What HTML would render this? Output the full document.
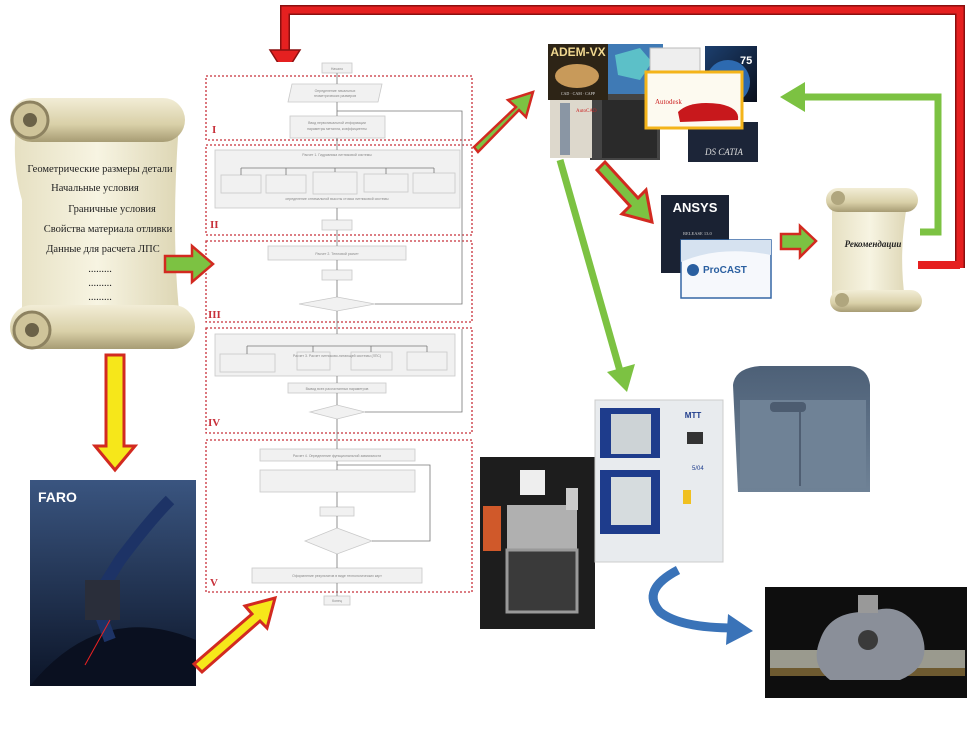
<!DOCTYPE html>
<html><head><meta charset="utf-8"><style>
html,body{margin:0;padding:0;background:#fff;}
svg{display:block;font-family:"Liberation Serif","DejaVu Serif",serif;}
</style></head><body>
<svg width="975" height="730" viewBox="0 0 975 730" xmlns="http://www.w3.org/2000/svg">
<defs>
<linearGradient id="parch" x1="0" x2="1"><stop offset="0" stop-color="#e6e0c2"/><stop offset="0.5" stop-color="#f7f4e2"/><stop offset="1" stop-color="#ddd6b4"/></linearGradient>
<linearGradient id="roll" x1="0" y1="0" x2="0" y2="1"><stop offset="0" stop-color="#f2edd6"/><stop offset="0.6" stop-color="#d9d0a8"/><stop offset="1" stop-color="#a79c74"/></linearGradient>
<linearGradient id="faro" x1="0" y1="0" x2="0" y2="1"><stop offset="0" stop-color="#3a5580"/><stop offset="1" stop-color="#0c1528"/></linearGradient>
<linearGradient id="earth" x1="0" y1="0" x2="1" y2="1"><stop offset="0" stop-color="#1c3f6e"/><stop offset="1" stop-color="#0a0f1c"/></linearGradient>
<linearGradient id="prn" x1="0" y1="0" x2="0" y2="1"><stop offset="0" stop-color="#4d6077"/><stop offset="1" stop-color="#6f8296"/></linearGradient>
</defs>

<!-- big red feedback arrow -->
<path d="M960 268 L960 10 L285 10 L285 55" fill="none" stroke="#8a1010" stroke-width="10"/>
<path d="M960 268 L960 10 L285 10 L285 55" fill="none" stroke="#e52020" stroke-width="7"/>
<polygon points="270,50 300,50 285,74" fill="#e52020" stroke="#8a1010" stroke-width="1.5"/>
<path d="M918 265 L960 265" stroke="#e52020" stroke-width="8"/>
<!-- green feedback -->
<path d="M920 232 L938 232 L938 97 L800 97" fill="none" stroke="#7cc242" stroke-width="7"/>
<polygon points="805,82 805,112 780,97" fill="#7cc242"/>

<!-- left scroll -->
<path d="M18 110 Q10 160 22 200 L22 320 L180 320 Q170 230 180 110 Z" fill="url(#parch)"/>
<rect x="10" y="98" width="175" height="44" rx="22" fill="url(#roll)"/>
<circle cx="30" cy="120" r="18" fill="#cfc49a" stroke="#8d8260" stroke-width="3"/>
<circle cx="30" cy="120" r="7" fill="#6b6248"/>
<rect x="10" y="305" width="185" height="44" rx="22" fill="url(#roll)"/>
<circle cx="32" cy="330" r="18" fill="#cfc49a" stroke="#8d8260" stroke-width="3"/>
<circle cx="32" cy="330" r="7" fill="#6b6248"/>
<g font-size="10.5" fill="#222" text-anchor="middle">
<text x="100" y="172">Геометрические размеры детали</text>
<text x="95" y="191">Начальные условия</text>
<text x="112" y="212">Граничные условия</text>
<text x="108" y="232">Свойства материала отливки</text>
<text x="103" y="252">Данные для расчета ЛПС</text>
<text x="100" y="272">.........</text>
<text x="100" y="286">.........</text>
<text x="100" y="300">.........</text>
</g>

<!-- flowchart frame -->
<rect x="205" y="62" width="268" height="535" fill="#fff"/>
<g fill="none" stroke="#c8303a" stroke-width="1.3" stroke-dasharray="2,2">
<rect x="206" y="76" width="266" height="64"/>
<rect x="206" y="145" width="266" height="90"/>
<rect x="206" y="241" width="266" height="81"/>
<rect x="206" y="328" width="266" height="105"/>
<rect x="206" y="440" width="266" height="152"/>
</g>
<g font-size="11" font-weight="bold" fill="#c8303a" font-family="Liberation Serif,serif">
<text x="212" y="133">I</text><text x="210" y="228">II</text><text x="208" y="318">III</text><text x="208" y="426">IV</text><text x="210" y="586">V</text>
</g>
<g fill="#f1f1f1" stroke="#c9c9c9" stroke-width="0.8">
<rect x="322" y="63" width="30" height="10"/>
<polygon points="292,84 382,84 378,102 288,102"/>
<rect x="290" y="116" width="95" height="22"/>
<rect x="215" y="150" width="245" height="58"/>
<rect x="221" y="175" width="40" height="18"/><rect x="266" y="175" width="40" height="18"/><rect x="313" y="172" width="44" height="22"/><rect x="364" y="174" width="44" height="18"/><rect x="413" y="173" width="42" height="20"/>
<rect x="322" y="220" width="30" height="10"/>
<rect x="268" y="246" width="138" height="14"/>
<rect x="322" y="270" width="30" height="10"/>
<polygon points="337,297 375,304 337,311 299,304"/>
<rect x="215" y="334" width="240" height="42"/>
<rect x="220" y="354" width="55" height="18"/><rect x="297" y="352" width="33" height="18"/><rect x="351" y="352" width="41" height="18"/><rect x="407" y="352" width="40" height="18"/>
<rect x="288" y="383" width="98" height="10"/>
<polygon points="337,405 365,412 337,419 310,412"/>
<rect x="260" y="449" width="155" height="12"/>
<rect x="260" y="470" width="155" height="22"/>
<rect x="320" y="507" width="34" height="9"/>
<polygon points="337,528 372,541 337,554 305,541"/>
<rect x="252" y="568" width="170" height="15"/>
<rect x="324" y="596" width="26" height="9"/>
</g>
<g stroke="#777" stroke-width="0.8" fill="none">
<path d="M337 73 V84 M337 102 V116 M337 138 V150 M337 208 V220 M337 230 V246 M337 260 V270 M337 280 V297 M337 311 V334 M337 376 V383 M337 393 V405 M337 419 V449 M337 461 V470 M337 492 V507 M337 516 V528 M337 554 V568 M337 583 V596"/>
<path d="M337 111 H462 V304 H375"/>
<path d="M241 168 H434 M241 168 V175 M286 168 V175 M335 168 V172 M386 168 V174 M434 168 V173"/>
<path d="M247 346 H427 M247 346 V354 M313 346 V352 M371 346 V352 M427 346 V352"/>
<path d="M365 412 H462 V329"/>
<path d="M337 465 H430 V541 H372"/>
</g>
<g font-size="3.5" fill="#888" text-anchor="middle" font-family="Liberation Sans,sans-serif">
<text x="337" y="70">Начало</text>
<text x="335" y="92">Определение начальных</text><text x="335" y="97">геометрических размеров</text>
<text x="337" y="124">Ввод первоначальной информации</text><text x="337" y="130">параметры металла, коэффициенты</text>
<text x="337" y="156">Расчет 1. Гидравлика литниковой системы</text><text x="337" y="200">определение оптимальной высоты стояка литниковой системы</text>
<text x="337" y="255">Расчет 2. Тепловой расчет</text><text x="337" y="357">Расчет 3. Расчет литниково-питающей системы (ЛПС)</text>
<text x="337" y="390">Вывод всех рассчитанных параметров</text>
<text x="337" y="457">Расчет 4. Определение функциональной зависимости</text>
<text x="337" y="577">Оформление результатов в виде технологических карт</text>
<text x="337" y="602">Конец</text>
</g>

<!-- green arrow scroll->flowchart -->
<polygon points="165,256 192,256 192,246 213,264 192,282 192,272 165,272" fill="#7cc242" stroke="#d22a20" stroke-width="2.5"/>
<!-- green arrow flowchart->software -->
<polygon points="474,147 516,107 508,100 533,92 526,117 519,110 478,152" fill="#7cc242" stroke="#d22a20" stroke-width="2.5"/>

<!-- software collage -->
<rect x="603" y="44" width="60" height="52" fill="#3f7ab5"/>
<polygon points="615,55 640,48 652,62 640,80 618,75" fill="#5cc0c8"/>
<rect x="650" y="48" width="50" height="28" fill="#eee" stroke="#bbb"/>
<rect x="705" y="46" width="52" height="56" fill="url(#earth)"/>
<circle cx="728" cy="82" r="22" fill="#2d6ab0"/>
<text x="740" y="64" font-size="11" fill="#fff" font-weight="bold" font-family="Liberation Sans,sans-serif">75</text>
<rect x="590" y="94" width="70" height="66" fill="#444"/>
<rect x="602" y="100" width="55" height="58" fill="#2a2a2a"/>
<rect x="688" y="122" width="70" height="40" fill="#1c2538"/>
<text x="705" y="155" font-size="9" fill="#ddd" font-style="italic">DS CATIA</text>
<rect x="646" y="72" width="96" height="56" fill="#fdfaf0" stroke="#f4b41a" stroke-width="3"/>
<text x="655" y="104" font-size="7" fill="#c22">Autodesk</text>
<path d="M678 112 Q690 100 720 104 Q740 108 738 120 L680 122 Z" fill="#c8181c"/>
<rect x="548" y="44" width="60" height="56" fill="#2d2416"/>
<text x="578" y="56" font-size="12" font-weight="bold" fill="#f0d890" text-anchor="middle" font-family="Liberation Sans,sans-serif">ADEM-VX</text>
<ellipse cx="577" cy="76" rx="22" ry="12" fill="#c89a5a"/>
<text x="578" y="95" font-size="4" fill="#ddd" text-anchor="middle">CAD · CAM · CAPP</text>
<rect x="550" y="100" width="42" height="58" fill="#ddd8cc"/>
<rect x="560" y="103" width="10" height="52" fill="#8a96a4"/>
<text x="576" y="112" font-size="5" fill="#c22">AutoCAD</text>

<!-- arrow to ANSYS -->
<polygon points="597,170 605,162 638,198 646,190 652,222 622,214 630,206" fill="#7cc242" stroke="#d22a20" stroke-width="3"/>
<!-- ANSYS -->
<rect x="661" y="195" width="68" height="78" fill="#1a2233"/>
<text x="695" y="212" font-size="13" font-weight="bold" fill="#fff" text-anchor="middle" font-family="Liberation Sans,sans-serif">ANSYS</text>
<text x="683" y="235" font-size="4.5" fill="#ccc">RELEASE 13.0</text>
<rect x="681" y="240" width="90" height="58" fill="#f6f8fc" stroke="#3567a5" stroke-width="1.5"/>
<path d="M681 262 Q720 245 771 255 L771 240 L681 240 Z" fill="#d6e2f0"/>
<circle cx="693" cy="270" r="6" fill="#2a5fa0"/>
<text x="703" y="273" font-size="10" font-weight="bold" fill="#2a5fa0" font-family="Liberation Sans,sans-serif">ProCAST</text>
<!-- arrow to recommendations -->
<polygon points="781,234 800,234 800,226 816,241 800,257 800,249 781,249" fill="#7cc242" stroke="#d22a20" stroke-width="2.5"/>
<!-- right scroll -->
<path d="M832 200 L832 300 L905 300 Q898 250 908 200 Z" fill="url(#parch)"/>
<rect x="826" y="188" width="92" height="24" rx="12" fill="url(#roll)"/>
<circle cx="838" cy="198" r="7" fill="#b0a67e"/>
<rect x="830" y="290" width="92" height="22" rx="11" fill="url(#roll)"/>
<circle cx="842" cy="300" r="7" fill="#b0a67e"/>
<text x="873" y="247" font-size="9" font-style="italic" font-weight="bold" fill="#222" text-anchor="middle">Рекомендации</text>

<!-- long green line -->
<path d="M560 160 L622 378" stroke="#7cc242" stroke-width="7"/>
<polygon points="607,372 635,364 627,392" fill="#7cc242"/>

<!-- 3D printer -->
<path d="M733 385 Q735 368 760 366 L850 366 Q868 368 870 385 L870 492 L738 492 Z" fill="url(#prn)"/>
<rect x="740" y="400" width="126" height="88" fill="#6f8296"/>
<line x1="800" y1="405" x2="800" y2="486" stroke="#455366" stroke-width="1.5"/>
<rect x="770" y="402" width="36" height="10" rx="4" fill="#4c5c70"/>
<!-- furnace -->
<rect x="480" y="457" width="115" height="172" fill="#1d1d1d"/>
<rect x="483" y="506" width="18" height="45" fill="#d0592a"/>
<rect x="507" y="505" width="70" height="45" fill="#b0b0b0"/>
<rect x="520" y="470" width="25" height="25" fill="#eee"/>
<rect x="507" y="550" width="70" height="62" fill="#3a3a3a" stroke="#999" stroke-width="3"/>
<rect x="566" y="488" width="12" height="22" fill="#ccc"/>
<!-- MTT chamber -->
<rect x="595" y="400" width="128" height="162" fill="#e8ebee" stroke="#ccc"/>
<rect x="600" y="408" width="60" height="50" fill="#1e3c8c"/>
<rect x="611" y="414" width="40" height="40" fill="#cdd3d6"/>
<rect x="600" y="470" width="60" height="64" fill="#1e3c8c"/>
<rect x="611" y="477" width="40" height="48" fill="#d6dcde"/>
<text x="693" y="418" font-size="8" font-weight="bold" fill="#1e3c8c" text-anchor="middle" font-family="Liberation Sans,sans-serif">MTT</text>
<rect x="687" y="432" width="16" height="12" fill="#333"/>
<text x="692" y="470" font-size="6" fill="#1e3c8c" font-family="Liberation Sans,sans-serif">5/04</text>
<rect x="683" y="490" width="8" height="14" fill="#f0c020"/>
<!-- blue curved arrow -->
<path d="M678 570 Q640 590 660 612 Q680 628 735 628" fill="none" stroke="#3a73b8" stroke-width="9"/>
<polygon points="728,614 753,631 726,645" fill="#3a73b8"/>
<!-- part photo -->
<rect x="765" y="587" width="202" height="111" fill="#0e0e0e"/>
<rect x="770" y="650" width="195" height="20" fill="#9a9a8e"/>
<rect x="770" y="668" width="195" height="8" fill="#6e5a30"/>
<path d="M820 640 Q830 610 870 612 Q900 600 920 630 Q935 665 900 680 L830 680 Q810 665 820 640 Z" fill="#8a8f99"/>
<circle cx="868" cy="640" r="10" fill="#3a3a3a"/>
<rect x="858" y="595" width="20" height="18" fill="#999"/>

<!-- FARO photo -->
<rect x="30" y="480" width="166" height="206" fill="url(#faro)"/>
<path d="M30 686 Q100 600 196 640 L196 686 Z" fill="#0a1020"/>
<text x="38" y="502" font-size="14" font-weight="bold" fill="#fff" font-family="Liberation Sans,sans-serif">FARO</text>
<path d="M170 500 Q150 520 120 560 L95 600 L110 640" fill="none" stroke="#1d3366" stroke-width="12"/>
<rect x="85" y="580" width="35" height="40" fill="#2a2e3a"/>
<line x1="110" y1="620" x2="85" y2="665" stroke="#ee2222" stroke-width="1"/>

<!-- yellow down arrow -->
<polygon points="106,355 124,355 124,446 135,446 115,470 95,446 106,446" fill="#f6e71a" stroke="#d22a20" stroke-width="3"/>
<!-- yellow diag arrow -->
<polygon points="194,664 252,614 245,606 275,598 267,628 260,621 202,672" fill="#f6e71a" stroke="#d22a20" stroke-width="3"/>
</svg>
</body></html>
